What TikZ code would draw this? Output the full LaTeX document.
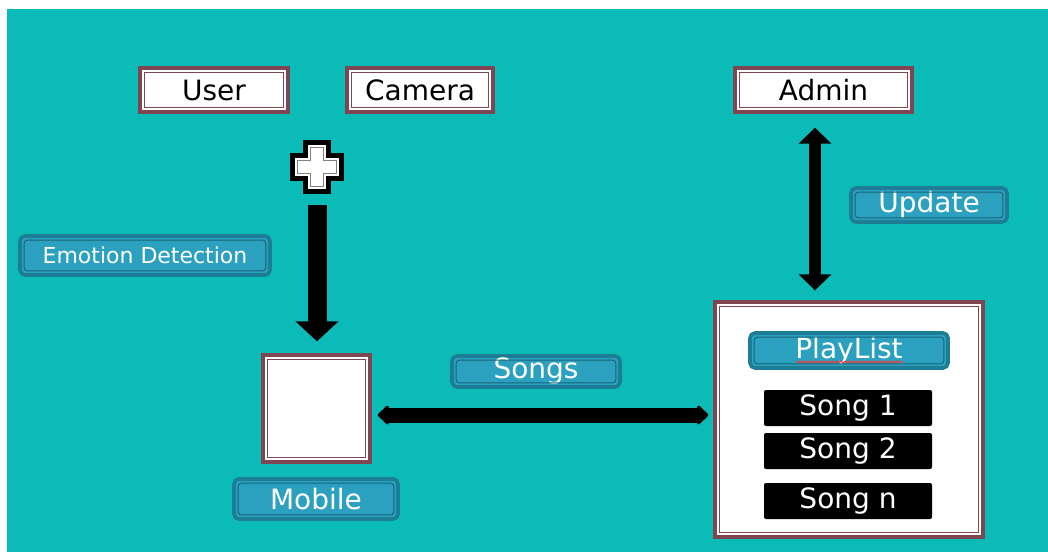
\documentclass[tikz,border=0pt]{standalone}
\usepackage{fontspec}
\setmainfont{DejaVu Sans}
\usetikzlibrary{arrows.meta,decorations.pathmorphing}

\definecolor{bgteal}{HTML}{0BBBB7}
\definecolor{boxrim}{HTML}{7E4651}
\definecolor{tagfill}{HTML}{2CA0BF}
\definecolor{tagrim}{HTML}{1D7D95}

\tikzset{
	whitebox/.style={draw=boxrim, line width=1.7pt, fill=white, inner sep=0pt, font=\fontsize{14}{16}\selectfont},
	tagbox/.style={draw=tagrim, line width=1.8pt, fill=tagfill, rounded corners=2.5pt, inner sep=0pt, text=white, font=\fontsize{14}{16}\selectfont},
	songbox/.style={fill=black, rounded corners=1pt, inner sep=0pt, minimum width=84pt, minimum height=18pt, text=white, font=\fontsize{14}{16}\selectfont},
	downarrow/.style={line width=9.5pt, -{Triangle[width=21pt,length=10pt]}},
	updarrow/.style={line width=6pt, {Triangle[width=16pt,length=8pt]}-{Triangle[width=16pt,length=8pt]}},
	songarrow/.style={line width=7.5pt, {Triangle[round,width=11pt,length=6pt]}-{Triangle[round,width=11pt,length=6pt]}},
}

\begin{document}
\begin{tikzpicture}[x=0.5pt,y=0.5pt,yscale=-1,xscale=1]
	\useasboundingbox (0,0) rectangle (1048,552);
	\fill[bgteal] (7,9) rectangle (1048,552);
	
	% White boxes
	\draw (214,90) node [whitebox, minimum width=74pt, minimum height=22pt] (user) {User};
	\draw (420,90) node [whitebox, minimum width=73pt, minimum height=22pt] (camera) {Camera};
	\draw (823.5,90) node [whitebox, minimum width=88.5pt, minimum height=22pt] (admin) {Admin};
	\draw (316.5,408.5) node [whitebox, minimum width=53.5pt, minimum height=53.5pt] (mobile) {};
	\draw (849,419.5) node [whitebox, minimum width=134pt, minimum height=117.5pt] (playlist) {};
	\foreach \n in {user,camera,admin,mobile,playlist}
		\draw[boxrim, line width=0.5pt] ([shift={(6,6)}]\n.north west) rectangle ([shift={(-6,-6)}]\n.south east);
	
	% Text Node
	\draw (145,255.5) node [tagbox, minimum width=125pt, minimum height=19.5pt, font=\fontsize{11}{13}\selectfont] (emotion) {Emotion Detection};
	% Text Node
	\draw (929,205) node [tagbox, minimum width=78pt, minimum height=17pt] (update) {Update};
	% Text Node
	\draw (536,371.5) node [tagbox, minimum width=84pt, minimum height=15.5pt] (songs) {Songs};
	% Text Node
	\draw (316,499) node [tagbox, minimum width=82pt, minimum height=20pt] (mobilelbl) {Mobile};
	% Text Node
	\draw (849,350.5) node [tagbox, minimum width=99pt, minimum height=17.5pt] (playlbl) {PlayList};
	\foreach \n in {emotion,update,songs,mobilelbl,playlbl}
		\draw[tagrim!80!black, line width=0.5pt, rounded corners=1.5pt] ([shift={(6,6)}]\n.north west) rectangle ([shift={(-6,-6)}]\n.south east);
	\draw[red!80!white, line width=0.4pt, decorate, decoration={snake, amplitude=0.5pt, segment length=2pt}] (796,362) -- (903,362);
	
	% Songs in the list
	\draw (848,408) node [songbox] (song1) {Song 1};
	\draw (848,451) node [songbox] (song2) {Song 2};
	\draw (848,501) node [songbox] (songn) {Song n};
	
	% Plus sign
	\draw (317,167) node [inner sep=0pt, minimum size=26pt] (plus) {};
	\begin{scope}[shift={(plus)}]
		\foreach \a/\b/\c/\d in {13/26/black/black, 8.5/21.5/white/white, 6.5/19.5/gray/white}
			\draw[draw=\c, fill=\d, line width=0.6pt] (-\a,-\b) -- (\a,-\b) -- (\a,-\a) -- (\b,-\a) -- (\b,\a) -- (\a,\a) -- (\a,\b) -- (-\a,\b) -- (-\a,\a) -- (-\b,\a) -- (-\b,-\a) -- (-\a,-\a) -- cycle;
	\end{scope}
	
	% Arrows
	\coordinate (vx) at (815,0);
	\coordinate (hy) at (0,415);
	\draw[downarrow, shorten <=6pt, shorten >=6pt] (plus.south) -- (plus.south |- mobile.north);
	\draw[updarrow, shorten <=7pt, shorten >=5pt] (admin.south -| vx) -- (playlist.north -| vx);
	\draw[songarrow, shorten <=3pt, shorten >=2.5pt] (mobile.east |- hy) -- (playlist.west |- hy);
	
\end{tikzpicture}
\end{document}
